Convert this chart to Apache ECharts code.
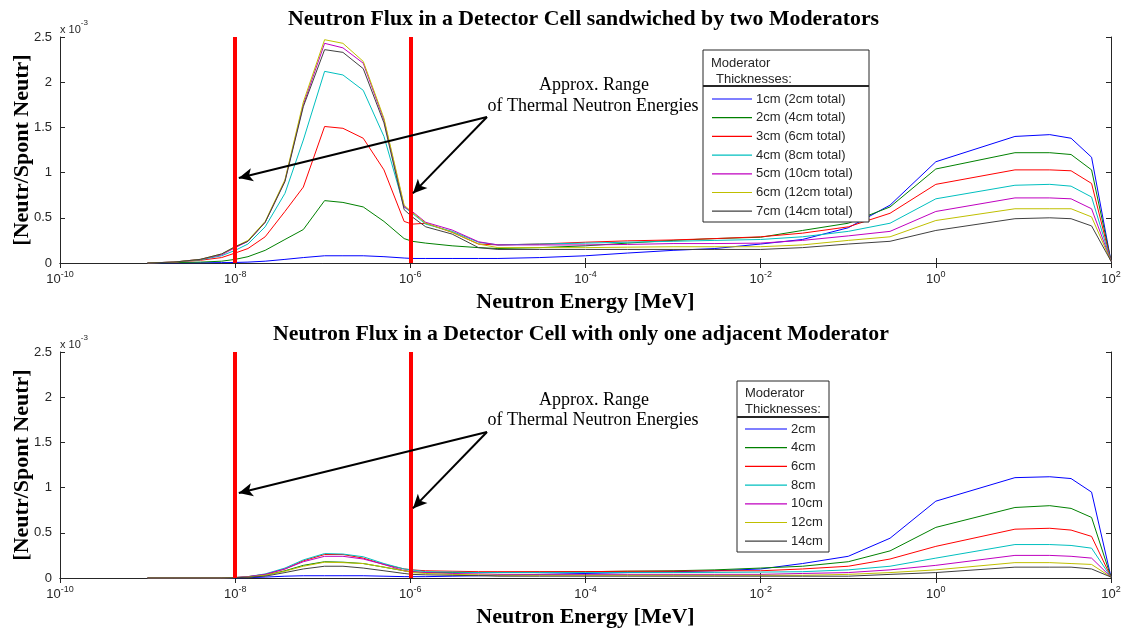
<!DOCTYPE html>
<html>
<head>
<meta charset="utf-8">
<script src="https://cdn.jsdelivr.net/npm/echarts@6/dist/echarts.min.js"></script>
<style>
  html, body { margin: 0; padding: 0; background: #fff; }
  #flux { width: 1124px; height: 630px; }
</style>
</head>
<body>
<div id="flux"></div>
<script>
// neutron energies [MeV], shared by every curve
var energy = [1e-9, 2e-9, 4e-9, 7e-9, 1e-8, 1.4e-8, 2.2e-8, 3.7e-8, 6e-8, 1.05e-7,
  1.7e-7, 2.9e-7, 5e-7, 8.5e-7, 1.05e-6, 1.5e-6, 3e-6, 6e-6, 1e-5, 3e-5,
  1e-4, 3e-4, 1e-3, 3e-3, 1e-2, 3e-2, 0.1, 0.3, 1, 8, 20, 35, 60, 100]

// flux in units of 1e-3 neutr / spont neutr
// top: detector cell sandwiched by two moderators
var sandwich1 = [0, 0, 0.002, 0.004, 0.006, 0.01, 0.02, 0.04, 0.06, 0.08, 0.08, 0.08, 0.07, 0.055, 0.05, 0.05, 0.05, 0.05, 0.05, 0.06, 0.08, 0.11, 0.14, 0.16, 0.21, 0.26, 0.39, 0.64, 1.12, 1.40, 1.42, 1.38, 1.17, 0.02]
var sandwich2 = [0, 0.005, 0.01, 0.02, 0.04, 0.07, 0.14, 0.26, 0.37, 0.69, 0.67, 0.62, 0.46, 0.27, 0.24, 0.22, 0.19, 0.17, 0.16, 0.17, 0.19, 0.22, 0.25, 0.27, 0.285, 0.36, 0.44, 0.62, 1.04, 1.22, 1.22, 1.20, 1.03, 0.02]
var sandwich3 = [0, 0.01, 0.03, 0.06, 0.11, 0.16, 0.29, 0.57, 0.84, 1.51, 1.49, 1.38, 1.03, 0.46, 0.43, 0.44, 0.34, 0.21, 0.2, 0.21, 0.23, 0.245, 0.255, 0.27, 0.29, 0.33, 0.40, 0.55, 0.87, 1.03, 1.03, 1.02, 0.88, 0.02]
var sandwich4 = [0, 0.01, 0.035, 0.08, 0.14, 0.21, 0.40, 0.77, 1.36, 2.12, 2.08, 1.91, 1.40, 0.62, 0.55, 0.43, 0.35, 0.23, 0.2, 0.21, 0.22, 0.23, 0.24, 0.25, 0.26, 0.29, 0.35, 0.44, 0.71, 0.86, 0.87, 0.85, 0.73, 0.02]
var sandwich5 = [0, 0.01, 0.04, 0.09, 0.17, 0.24, 0.45, 0.91, 1.75, 2.43, 2.38, 2.21, 1.58, 0.62, 0.57, 0.45, 0.365, 0.235, 0.2, 0.2, 0.2, 0.205, 0.215, 0.215, 0.22, 0.25, 0.30, 0.35, 0.57, 0.72, 0.72, 0.71, 0.60, 0.02]
var sandwich6 = [0, 0.01, 0.04, 0.1, 0.18, 0.25, 0.46, 0.92, 1.78, 2.47, 2.43, 2.23, 1.60, 0.64, 0.56, 0.44, 0.34, 0.21, 0.17, 0.17, 0.17, 0.175, 0.18, 0.18, 0.18, 0.2, 0.25, 0.29, 0.47, 0.60, 0.60, 0.60, 0.51, 0.02]
var sandwich7 = [0, 0.01, 0.04, 0.1, 0.18, 0.24, 0.45, 0.9, 1.73, 2.36, 2.33, 2.15, 1.55, 0.59, 0.51, 0.40, 0.32, 0.17, 0.15, 0.15, 0.15, 0.15, 0.15, 0.15, 0.15, 0.17, 0.21, 0.24, 0.36, 0.49, 0.50, 0.49, 0.41, 0.02]

// bottom: detector cell with only one adjacent moderator
var single1 = [0, 0, 0, 0, 0, 0.003, 0.01, 0.02, 0.025, 0.025, 0.025, 0.025, 0.02, 0.015, 0.015, 0.015, 0.02, 0.025, 0.03, 0.04, 0.05, 0.06, 0.07, 0.08, 0.1, 0.16, 0.24, 0.44, 0.85, 1.11, 1.12, 1.10, 0.95, 0.01]
var single2 = [0, 0, 0, 0, 0.003, 0.01, 0.03, 0.08, 0.14, 0.18, 0.175, 0.16, 0.12, 0.08, 0.07, 0.06, 0.06, 0.06, 0.06, 0.065, 0.07, 0.075, 0.08, 0.09, 0.11, 0.13, 0.18, 0.30, 0.56, 0.78, 0.80, 0.77, 0.67, 0.01]
var single3 = [0, 0, 0, 0, 0.005, 0.015, 0.04, 0.1, 0.19, 0.26, 0.26, 0.22, 0.15, 0.1, 0.09, 0.08, 0.075, 0.07, 0.07, 0.07, 0.07, 0.075, 0.075, 0.08, 0.08, 0.1, 0.13, 0.21, 0.35, 0.54, 0.55, 0.53, 0.46, 0.01]
var single4 = [0, 0, 0, 0, 0.005, 0.015, 0.045, 0.11, 0.2, 0.27, 0.265, 0.235, 0.16, 0.1, 0.09, 0.07, 0.065, 0.06, 0.06, 0.06, 0.06, 0.06, 0.06, 0.062, 0.065, 0.07, 0.09, 0.13, 0.22, 0.37, 0.37, 0.36, 0.33, 0.01]
var single5 = [0, 0, 0, 0, 0.005, 0.015, 0.04, 0.1, 0.18, 0.24, 0.24, 0.21, 0.15, 0.08, 0.07, 0.06, 0.05, 0.045, 0.04, 0.04, 0.04, 0.04, 0.04, 0.04, 0.04, 0.05, 0.06, 0.09, 0.14, 0.25, 0.25, 0.24, 0.22, 0.01]
var single6 = [0, 0, 0, 0, 0.005, 0.01, 0.03, 0.075, 0.13, 0.175, 0.17, 0.16, 0.12, 0.08, 0.06, 0.05, 0.04, 0.035, 0.03, 0.03, 0.03, 0.03, 0.03, 0.03, 0.03, 0.03, 0.04, 0.06, 0.09, 0.17, 0.17, 0.16, 0.15, 0.01]
var single7 = [0, 0, 0, 0, 0.003, 0.008, 0.02, 0.06, 0.1, 0.13, 0.13, 0.11, 0.08, 0.05, 0.04, 0.035, 0.03, 0.025, 0.02, 0.02, 0.02, 0.02, 0.02, 0.02, 0.02, 0.02, 0.02, 0.04, 0.06, 0.12, 0.12, 0.12, 0.1, 0.01]

var topNames = ['1cm (2cm total)', '2cm (4cm total)', '3cm (6cm total)', '4cm (8cm total)',
  '5cm (10cm total)', '6cm (12cm total)', '7cm (14cm total)']
var bottomNames = ['2cm', '4cm', '6cm', '8cm', '10cm', '12cm', '14cm']
var colors = ['#0000ff', '#008000', '#ff0000', '#00bfbf', '#bf00bf', '#bfbf00', '#404040']

// thermal range edges and arrow annotation (energy, flux)
var thermalEdges = [1e-8, 1e-6]
var arrowTail = [7.5e-6, 1.615]
var arrowHeads = [[1.1e-8, 0.94], [1.07e-6, 0.77]]

var yTicks = [0, 0.5, 1, 1.5, 2, 2.5]

var ink = '#262626'
var serif = '"Liberation Serif", "Times New Roman", serif'
var sans = '"Liberation Sans", Arial, sans-serif'

function pairs (ys) {
  return energy.map(function (e, i) { return [e, ys[i]] })
}

function expLabel (v) {
  var e = Math.round(Math.log(v) / Math.LN10)
  return '{b|10}{s|' + e + '}'
}

function bottomX (gridIndex) {
  return {
    type: 'log',
    logBase: 10,
    gridIndex: gridIndex,
    min: 1e-10,
    max: 100,
    interval: 2,
    name: 'Neutron Energy [MeV]',
    nameLocation: 'middle',
    nameGap: 28,
    nameTextStyle: { fontFamily: serif, fontWeight: 'bold', fontSize: 22, color: '#000' },
    axisLine: { lineStyle: { color: ink, width: 1 } },
    axisTick: { inside: true, length: 5, lineStyle: { color: ink } },
    splitLine: { show: false },
    minorTick: { show: false },
    axisLabel: {
      margin: 7,
      formatter: expLabel,
      rich: {
        b: { fontSize: 13, fontFamily: sans, color: ink, lineHeight: 18 },
        s: { fontSize: 9, fontFamily: sans, color: ink, verticalAlign: 'top', lineHeight: 18 }
      }
    }
  }
}

function topX (gridIndex) {
  return {
    type: 'log',
    logBase: 10,
    gridIndex: gridIndex,
    position: 'top',
    min: 1e-10,
    max: 100,
    interval: 2,
    axisLine: { lineStyle: { color: ink, width: 1 } },
    axisTick: { inside: true, length: 5, lineStyle: { color: ink } },
    axisLabel: { show: false },
    splitLine: { show: false }
  }
}

function leftY (gridIndex) {
  return {
    type: 'value',
    gridIndex: gridIndex,
    min: 0,
    max: 2.5,
    interval: 0.5,
    name: '[Neutr/Spont Neutr]',
    nameLocation: 'middle',
    nameGap: 27,
    nameMoveOverlap: false,
    nameRotate: 90,
    nameTextStyle: { fontFamily: serif, fontWeight: 'bold', fontSize: 22, color: '#000' },
    axisLine: { show: true, lineStyle: { color: ink, width: 1 } },
    axisTick: { show: true, inside: true, length: 5, lineStyle: { color: ink } },
    splitLine: { show: false },
    axisLabel: {
      margin: 8,
      fontSize: 13,
      fontFamily: sans,
      color: ink,
      formatter: function (v) { return yTicks.indexOf(v) >= 0 ? String(v) : '' }
    }
  }
}

function rightY (gridIndex) {
  return {
    type: 'value',
    gridIndex: gridIndex,
    position: 'right',
    min: 0,
    max: 2.5,
    interval: 0.5,
    axisLine: { show: true, lineStyle: { color: ink, width: 1 } },
    axisTick: { show: true, inside: true, length: 5, lineStyle: { color: ink } },
    axisLabel: { show: false },
    splitLine: { show: false }
  }
}

function redEdge (e) {
  return [
    { coord: [e, 0], symbol: 'none' },
    { coord: [e, 2.5], symbol: 'none', lineStyle: { color: '#ff0000', width: 4, type: 'solid' } }
  ]
}

function arrow (head) {
  return [
    { coord: arrowTail, symbol: 'none' },
    { coord: head, symbol: 'arrow', symbolSize: [10, 14], lineStyle: { color: '#000', width: 2, type: 'solid' } }
  ]
}

function annotations () {
  return {
    silent: true,
    symbol: 'none',
    animation: false,
    label: { show: false },
    data: [redEdge(thermalEdges[0]), redEdge(thermalEdges[1]), arrow(arrowHeads[0]), arrow(arrowHeads[1])]
  }
}

function makeSeries (names, sets, axisIndex) {
  return sets.map(function (ys, i) {
    var s = {
      name: names[i],
      type: 'line',
      xAxisIndex: axisIndex,
      yAxisIndex: axisIndex,
      data: pairs(ys),
      showSymbol: false,
      symbol: 'none',
      animation: false,
      color: colors[i],
      lineStyle: { width: 1, color: colors[i] }
    }
    if (i === sets.length - 1) {
      s.markLine = annotations()
    }
    return s
  })
}

function titleText (text, left, top) {
  return {
    text: text,
    left: left,
    top: top,
    padding: 0,
    textStyle: { fontFamily: serif, fontWeight: 'bold', fontSize: 21.8, color: '#000' }
  }
}

function legendBox (x, y, w, h, sepY, headX, headY) {
  return [
    {
      type: 'rect',
      z: 5,
      shape: { x: x, y: y, width: w, height: h },
      style: { fill: '#fff', stroke: ink, lineWidth: 1 }
    },
    {
      type: 'line',
      z: 6,
      shape: { x1: x, y1: sepY, x2: x + w, y2: sepY },
      style: { stroke: ink, lineWidth: 2 }
    },
    {
      type: 'text',
      z: 6,
      style: { text: 'Moderator', x: headX[0], y: headY[0], fill: ink, font: '13px ' + sans, verticalAlign: 'middle' }
    },
    {
      type: 'text',
      z: 6,
      style: { text: 'Thicknesses:', x: headX[1], y: headY[1], fill: ink, font: '13px ' + sans, verticalAlign: 'middle' }
    }
  ]
}

function rangeNote (y1, y2) {
  return [
    {
      type: 'text',
      z: 6,
      style: { text: 'Approx. Range', x: 594, y: y1, fill: '#000', font: '18px ' + serif, align: 'center', verticalAlign: 'middle' }
    },
    {
      type: 'text',
      z: 6,
      style: { text: 'of Thermal Neutron Energies', x: 593, y: y2, fill: '#000', font: '18px ' + serif, align: 'center', verticalAlign: 'middle' }
    }
  ]
}

function scaleNote (y) {
  return {
    type: 'text',
    z: 6,
    style: {
      text: '{a|x 10}{s|-3}',
      x: 60,
      y: y,
      verticalAlign: 'middle',
      rich: {
        a: { fontSize: 11, fontFamily: sans, fill: ink, lineHeight: 16, verticalAlign: 'bottom' },
        s: { fontSize: 8, fontFamily: sans, fill: ink, lineHeight: 16, verticalAlign: 'top' }
      }
    }
  }
}

function legendOf (names, left, top, width) {
  return {
    data: names,
    orient: 'vertical',
    left: left,
    top: top,
    padding: 0,
    icon: 'rect',
    itemWidth: width,
    itemHeight: 1.2,
    itemGap: 4.7,
    z: 10,
    textStyle: { fontFamily: sans, fontSize: 13, color: ink, lineHeight: 14, padding: [0, 0, 0, -1] }
  }
}

var chart = echarts.init(document.getElementById('flux'), null, { renderer: 'canvas' })

var option = {
  backgroundColor: '#fff',
  animation: false,
  title: [
    titleText('Neutron Flux in a Detector Cell sandwiched by two Moderators', 288, 8),
    titleText('Neutron Flux in a Detector Cell with only one adjacent Moderator', 273, 323)
  ],
  grid: [
    { left: 60, top: 37, width: 1051, height: 226, outerBoundsMode: 'none' },
    { left: 60, top: 352, width: 1051, height: 226, outerBoundsMode: 'none' }
  ],
  xAxis: [bottomX(0), topX(0), bottomX(1), topX(1)],
  yAxis: [leftY(0), rightY(0), leftY(1), rightY(1)],
  legend: [
    legendOf(topNames, 712, 92, 40),
    legendOf(bottomNames, 745, 422, 42)
  ],
  graphic: [].concat(
    legendBox(703, 50, 166, 172, 86, [711, 716], [63, 79]),
    legendBox(737, 381, 92, 171, 417, [745, 745], [393, 409]),
    rangeNote(85, 106),
    rangeNote(400, 420),
    [scaleNote(27), scaleNote(342)]
  ),
  series: [].concat(
    makeSeries(topNames, [sandwich1, sandwich2, sandwich3, sandwich4, sandwich5, sandwich6, sandwich7], 0),
    makeSeries(bottomNames, [single1, single2, single3, single4, single5, single6, single7], 2)
  )
}

chart.setOption(option)
</script>
</body>
</html>
